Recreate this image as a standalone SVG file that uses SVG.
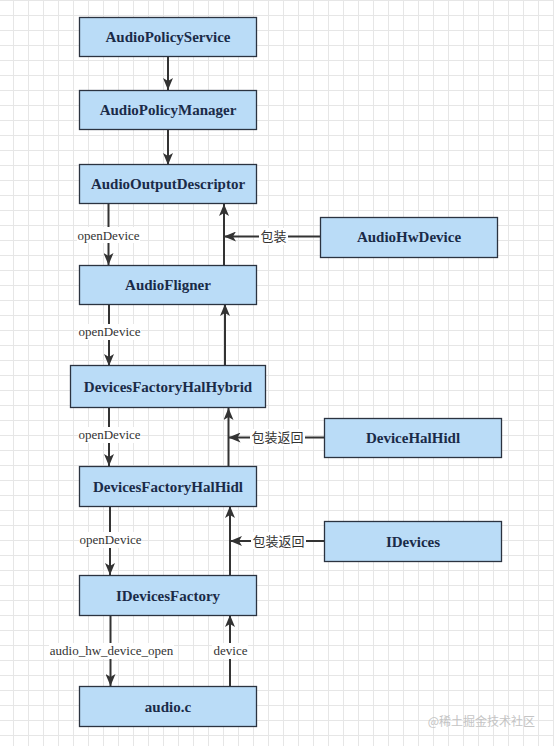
<svg xmlns="http://www.w3.org/2000/svg" width="554" height="746" viewBox="0 0 554 746">
<defs>
<pattern id="grid" patternUnits="userSpaceOnUse" x="13" y="0" width="15" height="15">
<path d="M0 0.5 H15 M0.5 0 V15" fill="none" stroke="#e6e6e6" stroke-width="1"/>
</pattern>
<marker id="arr" viewBox="0 0 12 10" refX="12" refY="5" markerWidth="12" markerHeight="10" markerUnits="userSpaceOnUse" orient="auto">
<path d="M0,0 L12,5 L0,10 L3,5 z" fill="#333"/>
</marker>
</defs>
<style>
.node rect{fill:#badcf7;stroke:#2b3340;stroke-width:1.3}
.node text{font-family:"Liberation Serif","Times New Roman",serif;font-weight:bold;font-size:15px;fill:#1a2b48;text-anchor:middle}
.edge{fill:none;stroke:#333;stroke-width:2;marker-end:url(#arr)}
.lbg{fill:#fff}
.lbl{font-family:"Liberation Serif","Times New Roman",serif;font-size:13px;fill:#333;text-anchor:middle}
.zh{font-family:"Noto Sans CJK SC","Noto Sans",sans-serif;font-size:13px;fill:#333;text-anchor:middle}
</style>
<rect width="554" height="746" fill="#fff"/>
<rect width="554" height="746" fill="url(#grid)"/>

<g id="connectors">
<path class="edge" d="M168 57 V90"/>
<path class="edge" d="M168 130 V165"/>
<path class="edge" d="M108.5 204 V265"/>
<path class="edge" d="M224 265 V204"/>
<path class="edge" d="M321 236.5 H224"/>
<path class="edge" d="M109 304 V366"/>
<path class="edge" d="M225 366 V304"/>
<path class="edge" d="M109 408 V466"/>
<path class="edge" d="M228.5 466 V408"/>
<path class="edge" d="M324 437.5 H228.5"/>
<path class="edge" d="M110 506 V575"/>
<path class="edge" d="M230 575 V506"/>
<path class="edge" d="M324 541 H230"/>
<path class="edge" d="M110.5 615 V686"/>
<path class="edge" d="M230 686 V615"/>

<rect class="lbg" x="77" y="227" width="63" height="16"/>
<text class="lbl" x="108.5" y="239.5">openDevice</text>
<rect class="lbg" x="78" y="324" width="63" height="16"/>
<text class="lbl" x="109.5" y="336">openDevice</text>
<rect class="lbg" x="78" y="427" width="63" height="16"/>
<text class="lbl" x="109.5" y="439">openDevice</text>
<rect class="lbg" x="79" y="532" width="63" height="16"/>
<text class="lbl" x="110.5" y="544">openDevice</text>
<rect class="lbg" x="49" y="643" width="125" height="16"/>
<text class="lbl" x="111.5" y="655">audio_hw_device_open</text>
<rect class="lbg" x="212" y="643" width="36" height="16"/>
<text class="lbl" x="230.5" y="655">device</text>

<rect class="lbg" x="259" y="228" width="29" height="17"/>
<text class="zh" x="273.5" y="241">包装</text>
<rect class="lbg" x="250" y="429" width="55" height="17"/>
<text class="zh" x="277.5" y="442">包装返回</text>
<rect class="lbg" x="251" y="532" width="55" height="17"/>
<text class="zh" x="278.5" y="545.5">包装返回</text>
</g>

<g id="n1" class="node"><rect x="79.5" y="17.5" width="177" height="39"/><text x="168" y="41.5">AudioPolicyService</text></g>
<g id="n2" class="node"><rect x="79.5" y="90.5" width="177" height="39"/><text x="168" y="114.5">AudioPolicyManager</text></g>
<g id="n3" class="node"><rect x="79.5" y="164.5" width="177" height="39"/><text x="168" y="188.5">AudioOutputDescriptor</text></g>
<g id="n4" class="node"><rect x="79.5" y="265.5" width="177" height="39"/><text x="168" y="289.5">AudioFligner</text></g>
<g id="n5" class="node"><rect x="320.5" y="217.5" width="177" height="40"/><text x="409" y="242">AudioHwDevice</text></g>
<g id="n6" class="node"><rect x="70.5" y="365.5" width="195" height="42"/><text x="168" y="391.5">DevicesFactoryHalHybrid</text></g>
<g id="n7" class="node"><rect x="79.5" y="466.5" width="177" height="40"/><text x="168" y="491.5">DevicesFactoryHalHidl</text></g>
<g id="n8" class="node"><rect x="324.5" y="418.5" width="177" height="39"/><text x="413" y="443">DeviceHalHidl</text></g>
<g id="n9" class="node"><rect x="324.5" y="521.5" width="177" height="40"/><text x="413" y="546.5">IDevices</text></g>
<g id="n10" class="node"><rect x="79.5" y="575.5" width="177" height="40"/><text x="168" y="600.5">IDevicesFactory</text></g>
<g id="n11" class="node"><rect x="79.5" y="686.5" width="177" height="40"/><text x="168" y="711.5">audio.c</text></g>

<text x="535" y="726" font-family="Noto Sans CJK SC,Noto Sans,sans-serif" font-size="12" fill="#c4c4c4" text-anchor="end">@稀土掘金技术社区</text>
</svg>
